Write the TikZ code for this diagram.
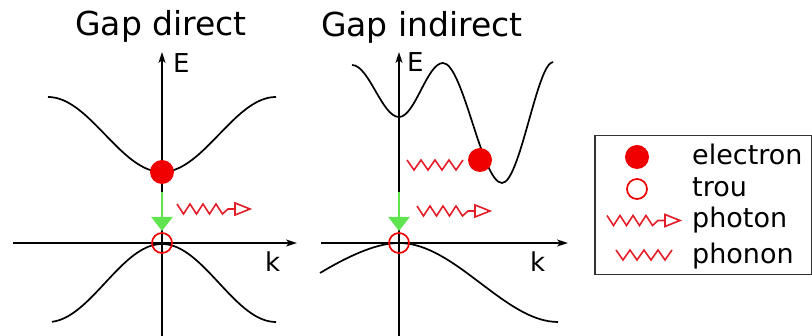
\documentclass[tikz,border=0pt]{standalone}
\usepackage{fontspec}
\setmainfont{DejaVu Sans}
\usetikzlibrary{arrows.meta}
\definecolor{zzred}{RGB}{228,30,40}
\definecolor{elred}{RGB}{240,0,0}
\definecolor{grn}{RGB}{95,228,80}
\tikzset{
  axis/.style={line width=1.7pt,-{Stealth[length=11pt,width=7pt,inset=3pt]}},
  band/.style={line width=1.7pt},
  electron/.style={circle,fill=elred,minimum size=24pt,inner sep=0pt},
  hole/.style={circle,draw=elred,line width=1.7pt,minimum size=20pt,inner sep=0pt},
  trans/.style={grn,line width=2.4pt,-{Triangle[length=14pt,width=21pt]}},
  title/.style={font=\fontsize{33}{38}\selectfont,anchor=base},
  axlab/.style={font=\fontsize{26}{30}\selectfont,anchor=base west,inner sep=0pt},
  legtext/.style={font=\fontsize{27}{31}\selectfont,anchor=base west,inner sep=0pt},
  photonpic/.pic={
    \draw[zzred,line width=1.6pt,line join=miter]
      (0,-5) -- (6.5,5) -- (13,-5) -- (19.5,5) -- (26,-5) -- (32.5,5) -- (39,-5) -- (45.5,5) -- (51,0) -- (58,0);
    \draw[zzred,line width=1.6pt] (58,-6) -- (73,0) -- (58,6) -- cycle;
  },
  phononpic/.pic={
    \draw[zzred,line width=1.6pt,line join=miter]
      (0,-5) -- (7,5) -- (14,-5) -- (21,5) -- (28,-5) -- (35,5) -- (42,-5) -- (49,5) -- (56,-5);
  }
}
\begin{document}
\begin{tikzpicture}[x=1pt,y=-1pt]
\useasboundingbox (0,0) rectangle (812,336);

% ---------- Gap direct ----------
\node[title] (t1) at (161,36) {Gap direct};
\coordinate (xa0) at (13,243);
\coordinate (xa1) at (297,243);
\coordinate (ya0) at (162,336);
\coordinate (ya1) at (162,52);
\draw[axis] (xa0) -- (xa1);
\draw[axis] (ya0) -- (ya1);
\node[axlab] (E1) at (173,73) {E};
\node[axlab] (k1) at (265,272) {k};
\draw[band,domain=48:276,samples=80,smooth] plot (\x,{134.5+37.5*cos((\x-162)*1.578947)});
\draw[band,domain=52:276,samples=80,smooth] plot (\x,{283-39*cos((\x-162)*1.578947)});
\coordinate (g1s) at (162,192);
\coordinate (g1e) at (162,231);
\draw[trans] (g1s) -- (g1e);
\node[electron] (el1) at (162,172) {};
\node[hole] (h1) at (162,243) {};
\pic at (177,209) {photonpic};

% ---------- Gap indirect ----------
\node[title] (t2) at (422,37) {Gap indirect};
\coordinate (xb0) at (321,243);
\coordinate (xb1) at (568,243);
\coordinate (yb0) at (399,336);
\coordinate (yb1) at (399,52);
\draw[axis] (xb0) -- (xb1);
\draw[axis] (yb0) -- (yb1);
\node[axlab] (E2) at (407,72) {E};
\node[axlab] (k2) at (530,272) {k};
\draw[band] (352,65) .. controls (369,65) and (382,117) .. (399,117)
  .. controls (415,117) and (427,63) .. (443,63)
  .. controls (463,63) and (482,183) .. (502,183)
  .. controls (520,183) and (537,63) .. (553,62);
\draw[band] (320,273) .. controls (345,258) and (375,243) .. (399,243)
  .. controls (455,243) and (505,322) .. (558,322);
\coordinate (g2s) at (399,192);
\coordinate (g2e) at (399,231);
\draw[trans] (g2s) -- (g2e);
\node[electron] (el2) at (480,160) {};
\node[hole] (h2) at (399,243) {};
\pic at (407,165) {phononpic};
\pic at (417,211) {photonpic};

% ---------- Legend ----------
\node[draw=black!80,line width=1.5pt,minimum width=217pt,minimum height=139pt,anchor=north west,inner sep=0pt] (leg) at (594,135) {};
\node[electron] (le) at (637,157) {};
\node[hole] (lh) at (637,189) {};
\pic at (607,220.5) {photonpic};
\pic at (616,255) {phononpic};
\node[legtext] (l1) at (692,165) {electron};
\node[legtext] (l2) at (692,197) {trou};
\node[legtext] (l3) at (692,228) {photon};
\node[legtext] (l4) at (692,264) {phonon};
\end{tikzpicture}
\end{document}
